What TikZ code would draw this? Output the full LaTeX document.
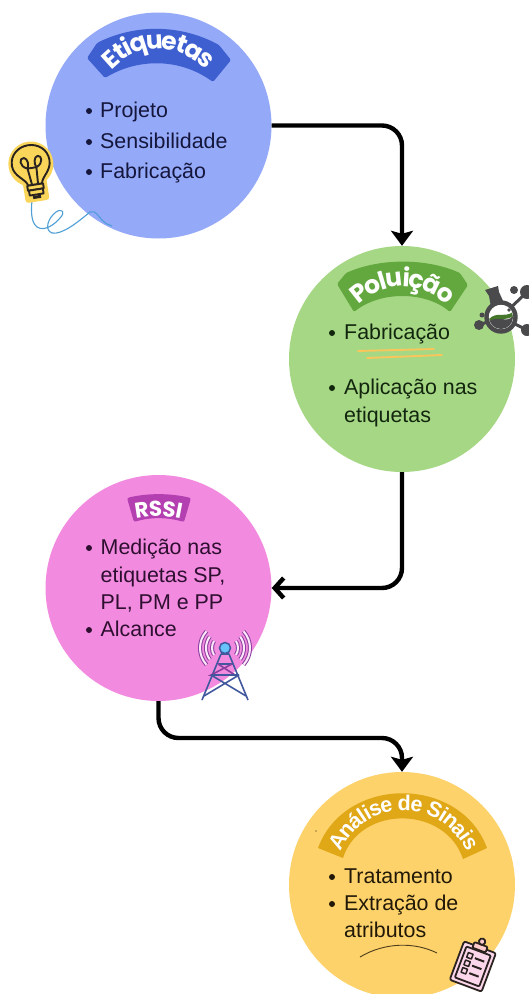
\documentclass[tikz,border=0pt]{standalone}
\usepackage{fontspec}
\setmainfont{Liberation Sans}
\newfontfamily\bannerfont{Poppins}
\usetikzlibrary{arrows.meta,decorations.text}
\definecolor{cblue}{HTML}{94A9F8}\definecolor{bblue}{HTML}{3D5FD0}
\definecolor{cgreen}{HTML}{A6D785}\definecolor{bgreen}{HTML}{63A83F}
\definecolor{cpink}{HTML}{F28BE0}\definecolor{bpink}{HTML}{B43FB0}
\definecolor{cyell}{HTML}{FDD26A}\definecolor{byell}{HTML}{E0A717}
\definecolor{tblue}{HTML}{14163C}\definecolor{tgreen}{HTML}{12260E}
\definecolor{tpink}{HTML}{2E0F30}\definecolor{tyell}{HTML}{211808}
\definecolor{iconink}{HTML}{2A2320}\definecolor{wire}{HTML}{4E9FD6}
\definecolor{flask}{HTML}{4A4A4C}\definecolor{towerb}{HTML}{41589F}
\definecolor{towerp}{HTML}{8A3E9E}\definecolor{under}{HTML}{F8C65A}
\definecolor{bulbfill}{HTML}{F9D65A}
\tikzset{
  stage/.style={circle,minimum size=226pt,inner sep=0pt,fill=#1},
  itm/.style={anchor=base west,inner sep=0pt,font=\fontsize{21.4}{24}\selectfont,text=#1},
  conn/.style={line width=4.4pt,black,rounded corners=20pt},
  tipfill/.style={-{Stealth[length=15pt,width=22pt,inset=3pt]}},
  tipbarb/.style={-{Straight Barb[length=9pt,width=20pt,line width=4.4pt]}},
  bannertext/.style 2 args={decorate,text=white,decoration={text along path,raise=#1,text align={center},text={#2}}},
}
\newcommand{\bfont}[1]{\bannerfont\bfseries\fontsize{#1}{#1}\selectfont\color{white}}
\newcommand{\sfontb}[1]{\bfseries\fontsize{#1}{#1}\selectfont\color{white}}
\begin{document}
\begin{tikzpicture}[x=1pt,y=-1pt]
\useasboundingbox (0,0) rectangle (529,994);
\fill[white] (0,0) rectangle (529,994);
% stages
\node[stage=cblue] (etiq) at (158.5,125.5) {};
\node[stage=cgreen] (pol) at (402,359) {};
\node[stage=cpink] (rssi) at (158.5,588) {};
\node[stage=cyell] (anal) at (402,885) {};
% connectors
\coordinate (mid) at (280,738);
\draw[conn,tipfill] (etiq.east) -| (pol.north);
\draw[conn,tipbarb] (pol.south) |- (rssi.east);
\draw[conn,tipfill] (rssi.south) |- (mid) -| (anal.north);
% banners
\fill[bblue,rounded corners=1.5pt] (87,58) -- (97,43) .. controls (135,24) and (180,24) .. (219,45) -- (231,60) -- (213,82) .. controls (180,58) and (138,58) .. (105,78) -- cycle;
\path[bannertext={-10pt}{|\bfont{25}|Etiquetas}] (94,76) .. controls (128,26) and (188,26) .. (223,76);
\fill[bgreen,rounded corners=1.5pt] (337,284) -- (346,273) .. controls (380,258) and (426,258) .. (460,273) -- (468,285) -- (450,312) .. controls (425,291) and (380,291) .. (354,312) -- cycle;
\path[bannertext={-10pt}{|\bfont{25}|Poluição}] (343,308) .. controls (374,266) and (430,266) .. (462,308);
\fill[bpink,rounded corners=2pt] (127,498) .. controls (147,493) and (170,493) .. (191,498) -- (184,522) .. controls (167,517) and (150,517) .. (134,522) -- cycle;
\path[bannertext={-5pt}{|\bfont{21.5}|RSSI}] (126,517) .. controls (145,510) and (172,510) .. (191,517);
\fill[byell] (318,848) .. controls (345,775) and (460,775) .. (487,848) -- (463,859) .. controls (445,805) and (360,805) .. (343,858) -- cycle;
\path[bannertext={-8pt}{|\sfontb{21.5}|Análise de Sinais}] (330,858) .. controls (354,784) and (452,784) .. (478,858);
% Etiquetas items
\foreach \y in {111,142,172}{\fill[tblue] (89,\y) circle (3);}
\node[itm=tblue] (e1) at (100,117) {Projeto};
\node[itm=tblue] (e2) at (100,148) {Sensibilidade};
\node[itm=tblue] (e3) at (100,178) {Fabricação};
% Poluicao items
\foreach \y in {333,388}{\fill[tgreen] (332,\y) circle (3);}
\node[itm=tgreen] (p1) at (344,339) {Fabricação};
\node[itm=tgreen] (p2) at (344,394) {Aplicação nas};
\node[itm=tgreen] (p3) at (344,422) {etiquetas};
\draw[under,line width=1.9pt,line cap=round] (358,351) -- (434,349);
\draw[under,line width=1.9pt,line cap=round] (367,358) -- (442,355);
% RSSI items
\foreach \y in {548,630}{\fill[tpink] (89,\y) circle (3);}
\node[itm=tpink] (r1) at (100.5,554) {Medição nas};
\node[itm=tpink] (r2) at (100.5,582) {etiquetas SP,};
\node[itm=tpink] (r3) at (100.5,609) {PL, PM e PP};
\node[itm=tpink] (r4) at (100.5,636) {Alcance};
% Analise items
\foreach \y in {877,904}{\fill[tyell] (332,\y) circle (3);}
\node[itm=tyell] (a1) at (344,883) {Tratamento};
\node[itm=tyell] (a2) at (344,910) {Extração de};
\node[itm=tyell] (a3) at (344,937) {atributos};
\draw[tyell!80!cyell,line width=.9pt] (360,957) .. controls (385,942) and (415,942) .. (437,953);
\fill[tyell] (316,831) circle (.6);
% bulb
\draw[wire,line width=1.1pt] (32,200) .. controls (31,212) and (31,222) .. (37,227) .. controls (45,232) and (55,224) .. (60,218) .. controls (66,212) and (62,208) .. (56,212) .. controls (48,218) and (44,230) .. (52,233) .. controls (62,235) and (78,222) .. (90,212) .. controls (96,210) and (98,216) .. (102,220) .. controls (106,224) and (109,225) .. (112,226);
\begin{scope}[shift={(31,165)},rotate=9,iconink,line width=1.9pt,line cap=round,line join=round]
\fill[bulbfill] (0,-1) circle (22.5);
\fill[bulbfill,rounded corners=3pt] (-11,14) rectangle (13,37);
\draw[fill=bulbfill] (-6,20) .. controls (-7,13) and (-19,9) .. (-19,-2) .. controls (-19,-13) and (-10,-20) .. (0,-20) .. controls (10,-20) and (19,-13) .. (19,-2) .. controls (19,9) and (9,13) .. (8,20) -- cycle;
\draw (-2,20) -- (-4,3) .. controls (-12,0) and (-11,-9) .. (-6,-8) .. controls (-2,-7) and (-2,0) .. (-4,3) -- (5,3) .. controls (3,0) and (4,-8) .. (8,-8) .. controls (12,-8) and (13,0) .. (5,3) -- (4,20);
\draw[fill=bulbfill] (-7,20) -- (9,20) -- (9,25) -- (-7,25) -- cycle;
\draw[fill=bulbfill] (-6,25) -- (8,25) -- (8,30) -- (-6,30) -- cycle;
\fill (-3,31) rectangle (5,34);
\end{scope}
% flask
\draw[flask,line width=3pt] (501,317) -- (527,292) (501,317) -- (527,330) (501,317) -- (479,325);
\fill[flask] (514,290) circle (4) (527,292) circle (7) (527,330) circle (6) (482,315) circle (2.5) (479,325) circle (5);
\fill[white] (501,317) circle (15);
\fill[flask] (485,290) -- (498,286) -- (499,292) -- (504,303) -- (491,307) -- (489,296) -- cycle;
\begin{scope}
\clip (501,317) circle (12);
\fill[white] (501,317) circle (12);
\fill[flask] (489,319) .. controls (497,313) and (505,325) .. (513,316) -- (513,330) -- (489,330) -- cycle;
\fill[bgreen!70!black] (489,319) .. controls (497,311) and (505,318) .. (513,312) -- (513,316) .. controls (505,322) and (497,316) .. (489,321) -- cycle;
\end{scope}
\fill[flask] (509,310) circle (1.8) (510,304) circle (1.1) (513,307) circle (.9);
\draw[flask,line width=4.4pt] (501,317) circle (14.5);
% tower
\foreach \r/\a in {13/32,19/37,25/42}{
  \draw[towerp,line width=4pt] (225,648) ++(180-\a:\r) arc[start angle=180-\a,end angle=180+\a,radius=\r] (225,648) ++(-\a:\r) arc[start angle=-\a,end angle=\a,radius=\r];
  \draw[white!80!cpink,line width=2pt] (225,648) ++(180-\a:\r) arc[start angle=180-\a,end angle=180+\a,radius=\r] (225,648) ++(-\a:\r) arc[start angle=-\a,end angle=\a,radius=\r];
}
\draw[towerb,line width=1.6pt,line join=round] (221,654) -- (202,700) (229,654) -- (248,700) (218,664) -- (232,664) (221,654) -- (229,654);
\draw[towerp,line width=1.6pt] (218,664) -- (235,675) -- (211,675) -- (232,664);
\draw[towerb,line width=1.6pt] (211,675) -- (246,696) (239,675) -- (204,696) (211,675) -- (239,675);
\draw[towerb,fill=cblue!70!cyan,line width=1.5pt] (225,648) circle (5.5);
% clipboard
\begin{scope}[shift={(473,966)},rotate=-20.5,iconink,line width=1.8pt,line join=round]
\draw[fill=cpink!30!white!80!pink,rounded corners=2pt] (-17,-20) rectangle (17,21);
\draw[rounded corners=1pt] (-13,-16) rectangle (13,17);
\draw[fill=pink!80!white,rounded corners=1pt] (-7,-23) rectangle (7,-17);
\draw[fill=pink!80!white] (0,-26) circle (3.2);
\draw[line width=1.5pt] (-9,-11) rectangle (-4,-6) (-9,-3) rectangle (-4,2) (-9,5) rectangle (-4,10);
\draw[line width=2pt] (-1,-8) -- (9,-8) (-1,0) -- (9,0) (-1,8) -- (9,8);
\end{scope}
\end{tikzpicture}
\end{document}
